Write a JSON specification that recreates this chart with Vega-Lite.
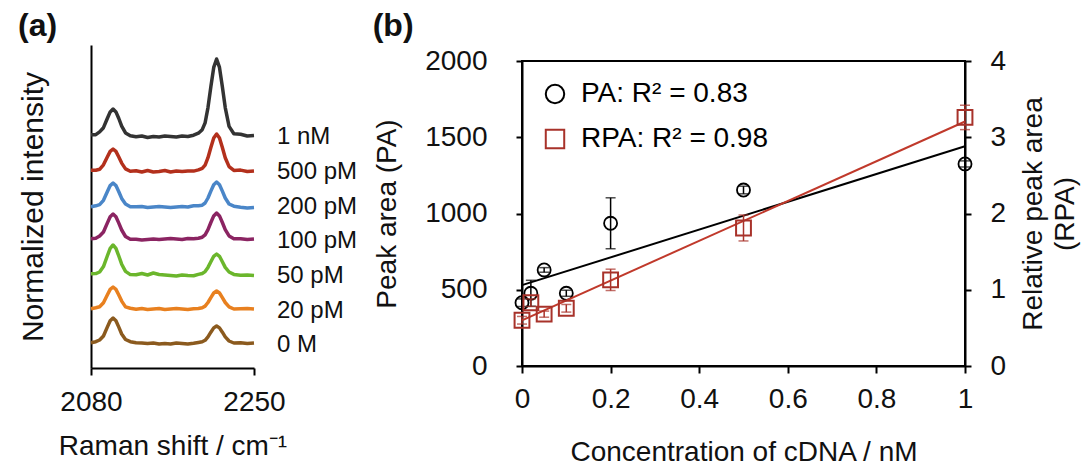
{
  "$schema": "https://vega.github.io/schema/vega-lite/v6.json",
  "padding": {"left": 18, "top": 10, "right": 0, "bottom": 0},
  "spacing": 14,
  "resolve": {"legend": {"shape": "independent", "stroke": "independent"}},
  "config": {
    "font": "Liberation Sans",
    "axis": {"domainColor": "black", "tickColor": "black", "labelColor": "#111111", "titleColor": "#111111", "domainWidth": 2, "tickWidth": 2, "labelFont": "Liberation Sans", "titleFont": "Liberation Sans", "titleFontWeight": "normal", "grid": false, "labelFlush": false},
    "title": {"fontSize": 32, "fontWeight": "bold", "anchor": "start", "frame": "bounds", "font": "Liberation Sans", "color": "#111111"}
  },
  "hconcat": [
    {
      "title": {"text": "(a)", "offset": 2},
      "width": 163,
      "height": 323,
      "view": {"stroke": null},
      "data": {"values": [
        {"x": 2080, "1 nM": 233.3, "500 pM": 197.7, "200 pM": 161.2, "100 pM": 129.3, "50 pM": 94.3, "20 pM": 59.2, "0 M": 25.3},
        {"x": 2085, "1 nM": 233.3, "500 pM": 197.7, "200 pM": 162.2, "100 pM": 129.8, "50 pM": 94.4, "20 pM": 60.2, "0 M": 26.3},
        {"x": 2089, "1 nM": 236.1, "500 pM": 198.7, "200 pM": 163.4, "100 pM": 132, "50 pM": 96, "20 pM": 61.2, "0 M": 28},
        {"x": 2093, "1 nM": 240.3, "500 pM": 203.2, "200 pM": 167.7, "100 pM": 136, "50 pM": 101.4, "20 pM": 65.2, "0 M": 32},
        {"x": 2097, "1 nM": 249.5, "500 pM": 211, "200 pM": 176.2, "100 pM": 144.9, "50 pM": 112, "20 pM": 73, "0 M": 40.9},
        {"x": 2100, "1 nM": 256.1, "500 pM": 216.6, "200 pM": 182.4, "100 pM": 151.3, "50 pM": 119.7, "20 pM": 78.6, "0 M": 47.3},
        {"x": 2103, "1 nM": 259, "500 pM": 219, "200 pM": 185, "100 pM": 154, "50 pM": 123, "20 pM": 81, "0 M": 50},
        {"x": 2106, "1 nM": 256.1, "500 pM": 216.6, "200 pM": 182.4, "100 pM": 151.3, "50 pM": 119.7, "20 pM": 78.6, "0 M": 47.3},
        {"x": 2109, "1 nM": 249.5, "500 pM": 211, "200 pM": 176.2, "100 pM": 144.9, "50 pM": 112, "20 pM": 73, "0 M": 40.9},
        {"x": 2112, "1 nM": 241.9, "500 pM": 204.9, "200 pM": 169.6, "100 pM": 138, "50 pM": 103.8, "20 pM": 66.9, "0 M": 34},
        {"x": 2116, "1 nM": 235.1, "500 pM": 199.1, "200 pM": 163.9, "100 pM": 131.5, "50 pM": 96.6, "20 pM": 61.1, "0 M": 28.5},
        {"x": 2121, "1 nM": 232.3, "500 pM": 196.7, "200 pM": 161.2, "100 pM": 128.8, "50 pM": 93.4, "20 pM": 59.7, "0 M": 26.3},
        {"x": 2127, "1 nM": 231.3, "500 pM": 197.2, "200 pM": 161.2, "100 pM": 128.8, "50 pM": 93.3, "20 pM": 58.7, "0 M": 25.3},
        {"x": 2133, "1 nM": 232, "500 pM": 196, "200 pM": 161.5, "100 pM": 128, "50 pM": 94.5, "20 pM": 59.5, "0 M": 25},
        {"x": 2139, "1 nM": 230.5, "500 pM": 197.5, "200 pM": 160.5, "100 pM": 128.5, "50 pM": 93, "20 pM": 58.5, "0 M": 24.5},
        {"x": 2145, "1 nM": 231.5, "500 pM": 196, "200 pM": 161, "100 pM": 129, "50 pM": 95, "20 pM": 59, "0 M": 25},
        {"x": 2151, "1 nM": 231, "500 pM": 196.5, "200 pM": 161.5, "100 pM": 128.5, "50 pM": 93.5, "20 pM": 59.5, "0 M": 24},
        {"x": 2157, "1 nM": 232, "500 pM": 197.5, "200 pM": 161, "100 pM": 129, "50 pM": 93, "20 pM": 58.5, "0 M": 24.5},
        {"x": 2163, "1 nM": 231.5, "500 pM": 196, "200 pM": 160.5, "100 pM": 129.5, "50 pM": 92.5, "20 pM": 59, "0 M": 24},
        {"x": 2169, "1 nM": 231, "500 pM": 197, "200 pM": 161, "100 pM": 129, "50 pM": 92, "20 pM": 59.5, "0 M": 25},
        {"x": 2175, "1 nM": 232, "500 pM": 196.5, "200 pM": 161.5, "100 pM": 128.5, "50 pM": 93, "20 pM": 59, "0 M": 24.5},
        {"x": 2181, "1 nM": 231.5, "500 pM": 197, "200 pM": 161, "100 pM": 129.5, "50 pM": 92.5, "20 pM": 58.5, "0 M": 24},
        {"x": 2187, "1 nM": 232.8, "500 pM": 196.9, "200 pM": 162.3, "100 pM": 129.3, "50 pM": 92.2, "20 pM": 59.2, "0 M": 24.7},
        {"x": 2192, "1 nM": 234.8, "500 pM": 198.1, "200 pM": 162.3, "100 pM": 129.8, "50 pM": 93.6, "20 pM": 59.5, "0 M": 25.5},
        {"x": 2196, "1 nM": 238.3, "500 pM": 199.6, "200 pM": 162.8, "100 pM": 130.8, "50 pM": 94.5, "20 pM": 60.3, "0 M": 26.2},
        {"x": 2199, "1 nM": 245.2, "500 pM": 202.9, "200 pM": 165, "100 pM": 133.2, "50 pM": 96.4, "20 pM": 61.9, "0 M": 27.7},
        {"x": 2202, "1 nM": 260.4, "500 pM": 210.3, "200 pM": 170, "100 pM": 138.4, "50 pM": 100.6, "20 pM": 65.5, "0 M": 31.1},
        {"x": 2205, "1 nM": 281.3, "500 pM": 220.5, "200 pM": 176.9, "100 pM": 145.5, "50 pM": 106.3, "20 pM": 70.4, "0 M": 35.8},
        {"x": 2208, "1 nM": 300.6, "500 pM": 229.9, "200 pM": 183.3, "100 pM": 152.1, "50 pM": 111.7, "20 pM": 75, "0 M": 40.1},
        {"x": 2211, "1 nM": 309, "500 pM": 234, "200 pM": 186, "100 pM": 155, "50 pM": 114, "20 pM": 77, "0 M": 42},
        {"x": 2214, "1 nM": 300.6, "500 pM": 229.9, "200 pM": 183.3, "100 pM": 152.1, "50 pM": 111.7, "20 pM": 75, "0 M": 40.1},
        {"x": 2217, "1 nM": 281.3, "500 pM": 220.5, "200 pM": 176.9, "100 pM": 145.5, "50 pM": 106.3, "20 pM": 70.4, "0 M": 35.8},
        {"x": 2220, "1 nM": 260.4, "500 pM": 210.3, "200 pM": 170, "100 pM": 138.4, "50 pM": 100.6, "20 pM": 65.5, "0 M": 31.1},
        {"x": 2224, "1 nM": 241.6, "500 pM": 201.4, "200 pM": 164, "100 pM": 132.1, "50 pM": 96, "20 pM": 61.2, "0 M": 27},
        {"x": 2229, "1 nM": 234.3, "500 pM": 197.6, "200 pM": 161.8, "100 pM": 129.3, "50 pM": 93.6, "20 pM": 59, "0 M": 25},
        {"x": 2236, "1 nM": 233.8, "500 pM": 197.9, "200 pM": 160.8, "100 pM": 129.3, "50 pM": 92.7, "20 pM": 59.2, "0 M": 25.2},
        {"x": 2243, "1 nM": 232, "500 pM": 196.5, "200 pM": 160, "100 pM": 128.5, "50 pM": 93, "20 pM": 59.5, "0 M": 24.5},
        {"x": 2250, "1 nM": 232.5, "500 pM": 197, "200 pM": 160.5, "100 pM": 129, "50 pM": 92.5, "20 pM": 59, "0 M": 25}
      ]},
      "layer": [
        {
          "transform": [{"fold": ["1 nM", "500 pM", "200 pM", "100 pM", "50 pM", "20 pM", "0 M"], "as": ["s", "y"]}],
          "mark": {"type": "line", "strokeWidth": 3.5, "strokeJoin": "round"},
          "encoding": {
            "x": {"field": "x", "type": "quantitative", "scale": {"domain": [2080, 2250], "nice": false, "zero": false},
                  "axis": {"values": [2080, 2250], "format": "d", "title": "Raman shift / cm⁻¹", "labelFontSize": 28, "titleFontSize": 28, "tickSize": 7, "labelPadding": 13, "titlePadding": 16}},
            "y": {"field": "y", "type": "quantitative", "scale": {"domain": [0, 323], "nice": false, "zero": false},
                  "axis": {"ticks": false, "labels": false, "title": "Normalized intensity", "titleFontSize": 30, "titlePadding": 43}},
            "color": {"field": "s", "type": "nominal",
                      "scale": {"domain": ["1 nM", "500 pM", "200 pM", "100 pM", "50 pM", "20 pM", "0 M"], "range": ["#333333", "#b3301c", "#4a86c8", "#8b2462", "#6bb62c", "#e8801f", "#8b5a1e"]},
                      "legend": null}
          }
        },
        {
          "data": {"values": [
            {"s": "1 nM", "x": 2250, "y": 231},
            {"s": "500 pM", "x": 2250, "y": 196},
            {"s": "200 pM", "x": 2250, "y": 161},
            {"s": "100 pM", "x": 2250, "y": 127},
            {"s": "50 pM", "x": 2250, "y": 92},
            {"s": "20 pM", "x": 2250, "y": 57},
            {"s": "0 M", "x": 2250, "y": 23}
          ]},
          "mark": {"type": "text", "align": "left", "baseline": "middle", "dx": 23, "fontSize": 24, "color": "#111111"},
          "encoding": {
            "x": {"field": "x", "type": "quantitative"},
            "y": {"field": "y", "type": "quantitative"},
            "text": {"field": "s"}
          }
        }
      ]
    },
    {
      "title": {"text": "(b)", "offset": 2},
      "spacing": 0,
      "resolve": {"legend": {"shape": "independent", "stroke": "independent"}},
      "vconcat": [
        {
          "width": 1,
          "height": 1,
          "view": {"stroke": null},
          "data": {"values": []},
          "mark": "point",
          "encoding": {}
        },
        {
          "width": 443,
          "height": 305,
          "view": {"stroke": "black", "strokeWidth": 2},
          "data": {"values": [
            {"c": 0, "pa": 415, "pe": 25, "rpa": 0.6, "re": 0.05},
            {"c": 0.02, "pa": 477, "pe": 85, "rpa": 0.83, "re": 0.05},
            {"c": 0.05, "pa": 630, "pe": 15, "rpa": 0.68, "re": 0.04},
            {"c": 0.1, "pa": 477, "pe": 20, "rpa": 0.757, "re": 0.05},
            {"c": 0.2, "pa": 936, "pe": 167, "rpa": 1.13, "re": 0.14},
            {"c": 0.5, "pa": 1154, "pe": 25, "rpa": 1.81, "re": 0.17},
            {"c": 1, "pa": 1325, "pe": 20, "rpa": 3.26, "re": 0.16}
          ]},
          "resolve": {"scale": {"y": "independent"}},
          "layer": [
            {
              "encoding": {
                "x": {"field": "c", "type": "quantitative", "scale": {"domain": [0, 1], "nice": false},
                      "axis": {"values": [0, 0.2, 0.4, 0.6, 0.8, 1], "format": "~g", "title": "Concentration of cDNA / nM", "labelFontSize": 28, "titleFontSize": 28, "tickSize": 7, "labelPadding": 12, "titlePadding": 25}},
                "y": {"field": "pa", "type": "quantitative", "scale": {"domain": [0, 2000], "nice": false},
                      "axis": {"values": [0, 500, 1000, 1500, 2000], "format": "d", "title": "Peak area (PA)", "labelFontSize": 28, "titleFontSize": 28, "tickSize": 6, "labelPadding": 29, "titlePadding": 23}}
              },
              "layer": [
                {"transform": [{"regression": "pa", "on": "c"}], "mark": {"type": "line", "color": "black", "strokeWidth": 2}},
                {"mark": {"type": "errorbar", "ticks": {"size": 10}, "color": "black", "thickness": 1.5}, "encoding": {"yError": {"field": "pe"}}},
                {"mark": {"type": "point", "filled": false, "size": 170, "strokeWidth": 1.8, "opacity": 1},
                 "encoding": {
                   "shape": {"datum": "PA", "type": "nominal", "scale": {"domain": ["PA", "RPA"], "range": ["circle", "square"]}},
                   "stroke": {"datum": "PA", "type": "nominal", "scale": {"domain": ["PA", "RPA"], "range": ["black", "#a8322a"]},
                     "legend": {"title": null, "orient": "top-left", "offset": 19, "labelFontSize": 28, "labelFont": "Liberation Sans", "labelLimit": 500, "symbolSize": 340, "symbolStrokeWidth": 2, "symbolOpacity": 1, "labelOffset": 12, "rowPadding": 17,
                       "labelExpr": "datum.value == 'PA' ? 'PA: R² = 0.83' : 'RPA: R² = 0.98'",
                       "encode": {"labels": {"update": {"fill": {"signal": "datum.value == 'PA' ? '#3a3a3a' : '#c00000'"}}}}}}
                 }}
              ]
            },
            {
              "encoding": {
                "x": {"field": "c", "type": "quantitative"},
                "y": {"field": "rpa", "type": "quantitative", "scale": {"domain": [0, 4], "nice": false},
                      "axis": {"orient": "right", "values": [0, 1, 2, 3, 4], "title": ["Relative peak area", "(RPA)"], "titleAngle": 270, "labelFontSize": 28, "titleFontSize": 28, "titleLineHeight": 32, "tickSize": 6, "labelPadding": 19, "titlePadding": 10}}
              },
              "layer": [
                {"transform": [{"regression": "rpa", "on": "c"}], "mark": {"type": "line", "color": "#c0392b", "strokeWidth": 2}},
                {"mark": {"type": "errorbar", "ticks": {"size": 10}, "color": "#a8322a", "thickness": 1.5}, "encoding": {"yError": {"field": "re"}}},
                {"mark": {"type": "point", "filled": false, "size": 220, "strokeWidth": 2, "opacity": 1},
                 "encoding": {
                   "shape": {"datum": "RPA", "type": "nominal"},
                   "stroke": {"datum": "RPA", "type": "nominal"}
                 }}
              ]
            }
          ]
        }
      ]
    }
  ]
}
